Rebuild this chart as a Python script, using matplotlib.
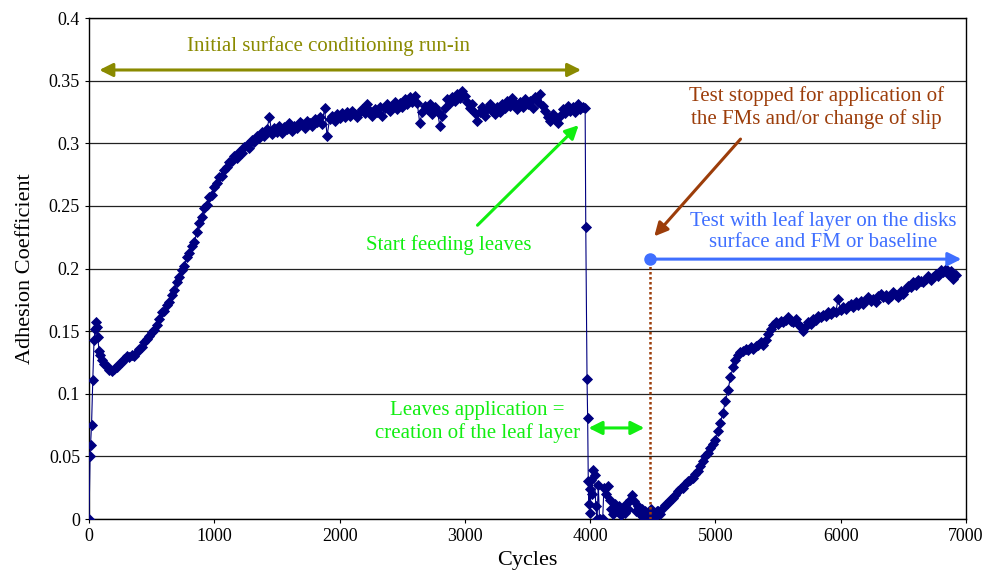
"""
Coeficiente de adhesion vs ciclos
"""
import numpy as np
import matplotlib
matplotlib.use("Agg")
import matplotlib.pyplot as plt

# **Datos**

# Arranque inicial (ciclos irregulares)
ciclos_inicio = [0, 8, 12, 20, 30, 40, 50, 55, 60, 70, 80, 90]
adh_inicio = [0.0, 0.050, 0.059, 0.075, 0.111, 0.143, 0.152, 0.157, 0.153, 0.145, 0.134, 0.131]

# Rodaje: cada 20 ciclos desde 100 hasta 3960
ciclos_rodaje = np.arange(100, 3961, 20)
adh_rodaje = [
    0.127, 0.124, 0.122, 0.119, 0.118, 0.120, 0.121, 0.124, 0.125, 0.128,
    0.130, 0.129, 0.131, 0.130, 0.133, 0.136, 0.137, 0.141, 0.144, 0.146,
    0.149, 0.151, 0.155, 0.160, 0.165, 0.166, 0.171, 0.173, 0.179, 0.183,
    0.189, 0.193, 0.199, 0.202, 0.209, 0.212, 0.218, 0.221, 0.229, 0.236,
    0.241, 0.248, 0.251, 0.257, 0.259, 0.265, 0.268, 0.273, 0.274, 0.279,
    0.281, 0.285, 0.286, 0.290, 0.288, 0.293, 0.292, 0.297, 0.299, 0.296,
    0.303, 0.301, 0.306, 0.304, 0.309, 0.306, 0.311, 0.321, 0.307, 0.312,
    0.309, 0.314, 0.308, 0.313, 0.311, 0.316, 0.310, 0.314, 0.312, 0.317,
    0.315, 0.312, 0.318, 0.316, 0.314, 0.319, 0.317, 0.321, 0.315, 0.328,
    0.306, 0.319, 0.322, 0.318, 0.323, 0.320, 0.324, 0.321, 0.325, 0.322,
    0.326, 0.323, 0.321, 0.325, 0.327, 0.324, 0.331, 0.326, 0.322, 0.327,
    0.325, 0.329, 0.322, 0.328, 0.331, 0.326, 0.330, 0.333, 0.327, 0.332,
    0.329, 0.335, 0.331, 0.337, 0.333, 0.338, 0.332, 0.316, 0.325, 0.330,
    0.327, 0.331, 0.323, 0.329, 0.326, 0.314, 0.322, 0.328, 0.335, 0.332,
    0.337, 0.334, 0.339, 0.336, 0.342, 0.338, 0.333, 0.328, 0.331, 0.324,
    0.318, 0.325, 0.329, 0.322, 0.327, 0.331, 0.326, 0.323, 0.329, 0.325,
    0.331, 0.328, 0.334, 0.330, 0.336, 0.332, 0.327, 0.333, 0.329, 0.335,
    0.331, 0.334, 0.328, 0.337, 0.333, 0.339, 0.330, 0.326, 0.321, 0.318,
    0.323, 0.319, 0.316, 0.322, 0.327, 0.324, 0.330, 0.326, 0.329, 0.325,
    0.331, 0.327, 0.329, 0.328,
]

# Caida al alimentar hojas y capa de hojas
ciclos_hojas = [3965, 3975, 3980, 3985, 3990, 3995, 4000, 4010, 4015, 4025,
                4035, 4045, 4055, 4065, 4075, 4100, 4110, 4125, 4140, 4155,
                4170, 4185, 4200, 4215, 4230, 4245, 4260, 4275, 4290, 4305,
                4320, 4335, 4350, 4365, 4380, 4395, 4410, 4425, 4440, 4455,
                4470, 4485, 4500, 4515, 4530]
adh_hojas = [0.233, 0.112, 0.081, 0.030, 0.012, 0.024, 0.005, 0.031, 0.020, 0.039,
             0.035, 0.010, 0.000, 0.027, 0.000, 0.000, 0.025, 0.020, 0.026, 0.015,
             0.008, 0.004, 0.012, 0.006, 0.010, 0.003, 0.008, 0.005, 0.012, 0.008,
             0.015, 0.019, 0.014, 0.006, 0.010, 0.004, 0.008, 0.002, 0.006, 0.000,
             0.004, 0.008, 0.004, 0.002, 0.006]

# Ensayo con capa de hojas: cada 20 ciclos desde 4540 hasta 6920
ciclos_ensayo = np.arange(4540, 6921, 20)
adh_ensayo = [
    0.006, 0.004, 0.009, 0.011, 0.013, 0.015, 0.017, 0.019, 0.022, 0.024,
    0.025, 0.028, 0.030, 0.031, 0.033, 0.036, 0.038, 0.042, 0.046, 0.050,
    0.053, 0.057, 0.060, 0.063, 0.070, 0.077, 0.085, 0.094, 0.103, 0.113,
    0.121, 0.127, 0.131, 0.133, 0.134, 0.136, 0.135, 0.137, 0.136, 0.138,
    0.139, 0.141, 0.139, 0.143, 0.148, 0.152, 0.155, 0.157, 0.156, 0.158,
    0.157, 0.159, 0.161, 0.158, 0.157, 0.160, 0.156, 0.153, 0.150, 0.154,
    0.157, 0.156, 0.160, 0.159, 0.162, 0.161, 0.163, 0.162, 0.165, 0.164,
    0.166, 0.165, 0.176, 0.167, 0.169, 0.168, 0.170, 0.172, 0.169, 0.173,
    0.171, 0.174, 0.172, 0.175, 0.177, 0.174, 0.176, 0.173, 0.178, 0.180,
    0.177, 0.179, 0.176, 0.178, 0.181, 0.179, 0.177, 0.182, 0.180, 0.184,
    0.186, 0.185, 0.189, 0.187, 0.191, 0.190, 0.189, 0.192, 0.194, 0.191,
    0.193, 0.196, 0.194, 0.199, 0.197, 0.200, 0.196, 0.198, 0.192, 0.195,
]

ciclos = np.concatenate([ciclos_inicio, ciclos_rodaje, ciclos_hojas, ciclos_ensayo])
adhesion = np.concatenate([adh_inicio, adh_rodaje, adh_hojas, adh_ensayo])

# Posiciones de las anotaciones (en ciclos / coeficiente)
CICLO_PARADA = 4480
NIVEL_ENSAYO = 0.2075

# **Grafico**
plt.rcParams['font.family'] = ['Liberation Serif', 'DejaVu Serif']
plt.rcParams['font.size'] = 12

fig = plt.figure(figsize=(9.97, 5.81), dpi=100)
ax = fig.add_axes([0.0893, 0.1067, 0.8796, 0.8623])

ax.plot(ciclos, adhesion, color='#000080', linewidth=0.8, marker='D',
        markersize=5, markeredgewidth=0.6, zorder=3)

ax.set_xlim(0, 7000)
ax.set_ylim(0, 0.4)
ax.set_xticks(np.arange(0, 7001, 1000))
ax.set_yticks(np.arange(0, 0.401, 0.05))
ax.set_yticklabels(['0', '0.05', '0.1', '0.15', '0.2', '0.25', '0.3', '0.35', '0.4'])
ax.tick_params(direction='out', length=3, width=0.8, labelsize=13)
ax.grid(axis='y', color='#222222', linewidth=0.9)
ax.set_axisbelow(True)
for lado in ax.spines.values():
    lado.set_linewidth(1.0)

ax.set_xlabel('Cycles', fontsize=16, labelpad=4)
ax.set_ylabel('Adhesion Coefficient', fontsize=16, labelpad=10)

# Rodaje inicial
OLIVA = '#8a8a00'
ax.annotate('', xy=(60, 0.3585), xytext=(3950, 0.3585),
            arrowprops=dict(arrowstyle='<|-|>', color=OLIVA, lw=2.2, mutation_scale=20))
ax.text(1910, 0.378, 'Initial surface conditioning run-in', color=OLIVA,
        ha='center', va='center', fontsize=15)

# Comienzo de alimentacion de hojas
VERDE = '#11ee11'
ax.annotate('', xy=(3924, 0.316), xytext=(3085, 0.233),
            arrowprops=dict(arrowstyle='-|>', color=VERDE, lw=2.2, mutation_scale=20))
ax.text(2869, 0.2185, 'Start feeding leaves', color=VERDE, ha='center',
        va='center', fontsize=15)

# Aplicacion de hojas
ax.annotate('', xy=(3965, 0.0727), xytext=(4455, 0.0727),
            arrowprops=dict(arrowstyle='<|-|>', color=VERDE, lw=2.2, mutation_scale=20))
ax.text(3100, 0.0775, 'Leaves application =\ncreation of the leaf layer', color=VERDE,
        ha='center', va='center', fontsize=15, linespacing=1.2)

# Parada del ensayo
MARRON = '#9c3d0a'
ax.plot([CICLO_PARADA, CICLO_PARADA], [0, NIVEL_ENSAYO], color=MARRON,
        linestyle=(0, (1, 1)), linewidth=1.8, zorder=4)
ax.annotate('', xy=(4497, 0.224), xytext=(5215, 0.305),
            arrowprops=dict(arrowstyle='-|>', color=MARRON, lw=2.2, mutation_scale=20))
ax.text(5807, 0.3285, 'Test stopped for application of\nthe FMs and/or change of slip',
        color=MARRON, ha='center', va='center', fontsize=15, linespacing=1.2)

# Ensayo con capa de hojas
AZUL = '#3f6fff'
ax.annotate('', xy=(6985, NIVEL_ENSAYO), xytext=(CICLO_PARADA, NIVEL_ENSAYO),
            arrowprops=dict(arrowstyle='-|>', color=AZUL, lw=2.2, mutation_scale=20),
            zorder=5)
ax.plot([CICLO_PARADA], [NIVEL_ENSAYO], 'o', color=AZUL, markersize=8, zorder=6)
ax.text(5858, 0.2295, 'Test with leaf layer on the disks\nsurface and FM or baseline',
        color=AZUL, ha='center', va='center', fontsize=15, linespacing=1.2)

plt.savefig('out.png', dpi=100)
